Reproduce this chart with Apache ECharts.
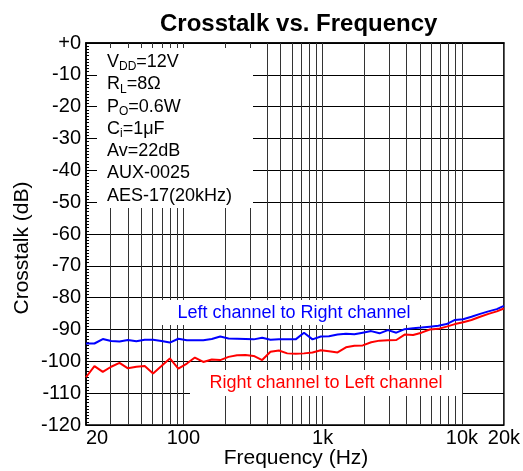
<!DOCTYPE html>
<html>
<head>
<meta charset="utf-8">
<title>Crosstalk vs. Frequency</title>
<script src="https://cdn.jsdelivr.net/npm/echarts@6/dist/echarts.min.js"></script>
<style>
  html, body { margin: 0; padding: 0; background: #fff; }
  #chart { width: 523px; height: 471px; }
</style>
</head>
<body>
<div id="chart"></div>
<script>
// measuring points (Hz), 1/5 octave steps
const freqs = [20, 23, 26.4, 30.3, 34.8, 40, 46, 52.8, 60.6, 69.6,
  80, 92, 106, 121, 139, 160, 184, 211, 243, 279,
  320, 368, 422, 485, 557, 640, 735, 845, 970, 1110,
  1280, 1470, 1690, 1940, 2230, 2560, 2940, 3380, 3880, 4460,
  5120, 5880, 6760, 7760, 8910, 10200, 11700, 13500, 15500, 17800, 20000];

// Left channel to Right channel (dB)
const leftToRight = [-94.4, -94.4, -93.0, -93.6, -93.8, -93.3, -93.7, -93.2, -93.2, -93.6,
  -94.1, -92.9, -93.4, -93.4, -93.4, -93.0, -92.2, -92.8, -92.9, -93.0,
  -93.1, -92.6, -93.2, -93.1, -93.1, -93.1, -91.0, -93.1, -92.2, -92.1,
  -91.6, -91.3, -91.5, -91.0, -90.5, -91.2, -90.2, -91.0, -89.9, -89.6,
  -89.4, -89.1, -88.8, -88.3, -87.0, -86.8, -86.0, -85.1, -84.3, -83.6, -82.6];

// Right channel to Left channel (dB)
const rightToLeft = [-105.0, -101.5, -103.3, -101.7, -100.5, -102.2, -101.7, -101.5, -103.8, -101.5,
  -99.1, -102.3, -100.7, -98.8, -100.2, -99.4, -99.6, -98.6, -98.1, -98.0,
  -98.3, -99.6, -97.0, -96.6, -97.5, -97.6, -97.5, -97.2, -96.5, -96.8,
  -97.2, -95.6, -95.1, -95.0, -94.0, -93.5, -93.4, -93.3, -91.6, -91.7,
  -91.0, -90.0, -89.8, -89.1, -88.3, -87.7, -87.0, -86.0, -85.1, -84.3, -83.4];

// vertical grid lines of the log axis
const gridFreqs = [30, 40, 50, 60, 70, 80, 90, 100,
  200, 300, 400, 500, 600, 700, 800, 900, 1000,
  2000, 3000, 4000, 5000, 6000, 7000, 8000, 9000, 10000];

const xLabels = {20: '20', 100: '100', 1000: '1k', 10000: '10k', 20000: '20k'};

// test conditions: [main, subscript, rest]
const conditions = [
  ['V', 'DD', '=12V'],
  ['R', 'L', '=8Ω'],
  ['P', 'O', '=0.6W'],
  ['C', 'i', '=1μF'],
  ['Av=22dB', '', ''],
  ['AUX-0025', '', ''],
  ['AES-17(20kHz)', '', '']
];

const FONT = '"Liberation Sans", Arial, sans-serif';

const chart = echarts.init(document.getElementById('chart'));

const condText = conditions.map((c, i) => ({
  type: 'text',
  x: 107,
  y: 62 + i * 22.3,
  z: 11,
  silent: true,
  style: {
    text: c[1] ? `{t|${c[0]}}{s|${c[1]}}{t|${c[2]}}` : `{t|${c[0]}}`,
    verticalAlign: 'middle',
    rich: {
      t: {fontSize: 18, fontFamily: FONT, lineHeight: 22, fill: '#000'},
      s: {fontSize: 12, fontFamily: FONT, lineHeight: 8, verticalAlign: 'bottom', fill: '#000'}
    }
  }
}));

const option = {
  animation: false,
  backgroundColor: '#fff',
  title: {
    text: 'Crosstalk vs. Frequency',
    left: 160,
    top: 12,
    padding: 0,
    textStyle: {fontSize: 24, fontWeight: 'bold', fontFamily: FONT, color: '#000'}
  },
  grid: {
    left: 86, right: 18, top: 43, bottom: 46,
    show: true,
    borderColor: '#000',
    borderWidth: 1.5,
    backgroundColor: 'transparent'
  },
  xAxis: {
    type: 'log',
    logBase: 10,
    min: 20,
    max: 20000,
    axisLine: {show: true, lineStyle: {color: '#000', width: 1.5}},
    axisTick: {show: false},
    splitLine: {show: false},
    axisLabel: {
      show: true,
      interval: 0,
      showMinLabel: true,
      showMaxLabel: true,
      alignMinLabel: 'left',
      margin: 3,
      fontSize: 20,
      fontFamily: FONT,
      color: '#000',
      formatter: v => xLabels[Math.round(v)] || ''
    }
  },
  yAxis: {
    type: 'value',
    min: -120,
    max: 0,
    interval: 10,
    axisLine: {show: true, lineStyle: {color: '#000', width: 1.5}},
    axisTick: {show: true, inside: true, length: 6, lineStyle: {color: '#000'}},
    minorTick: {show: true, splitNumber: 10, length: 3, lineStyle: {color: '#000'}},
    splitLine: {show: true, lineStyle: {color: '#000', width: 1}},
    axisLabel: {
      margin: 5,
      fontSize: 20,
      fontFamily: FONT,
      color: '#000',
      formatter: v => (v === 0 ? '+0' : String(v))
    }
  },
  graphic: [
    // white boxes behind the annotations
    {type: 'rect', z: 8, silent: true, shape: {x: 97, y: 48, width: 156, height: 160}, style: {fill: '#fff'}},
    {type: 'rect', z: 8, silent: true, shape: {x: 155, y: 300, width: 273, height: 25}, style: {fill: '#fff'}},
    {type: 'rect', z: 8, silent: true, shape: {x: 190, y: 370, width: 272, height: 26}, style: {fill: '#fff'}},
    ...condText,
    {
      type: 'text', x: 294, y: 313, z: 11, silent: true,
      style: {text: 'Left channel to Right channel', fill: '#0000ff', fontSize: 18, fontFamily: FONT, align: 'center', verticalAlign: 'middle'}
    },
    {
      type: 'text', x: 326, y: 383, z: 11, silent: true,
      style: {text: 'Right channel to Left channel', fill: '#ff0000', fontSize: 18, fontFamily: FONT, align: 'center', verticalAlign: 'middle'}
    },
    {
      type: 'text', x: 296, y: 458, silent: true,
      style: {text: 'Frequency (Hz)', fill: '#000', fontSize: 21, fontFamily: FONT, align: 'center', verticalAlign: 'middle'}
    },
    {
      type: 'text', x: 22, y: 248, rotation: Math.PI / 2, silent: true,
      style: {text: 'Crosstalk (dB)', fill: '#000', fontSize: 21, fontFamily: FONT, align: 'center', verticalAlign: 'middle'}
    }
  ],
  series: [
    {
      // only carries the vertical grid lines
      type: 'line',
      z: 1,
      silent: true,
      data: [],
      markLine: {
        z: 1,
        silent: true,
        symbol: ['none', 'none'],
        label: {show: false},
        animation: false,
        lineStyle: {color: '#333', width: 1, type: 'solid'},
        emphasis: {disabled: true},
        data: gridFreqs.map(f => ({xAxis: f}))
      }
    },
    {
      name: 'Left channel to Right channel',
      type: 'line',
      z: 10,
      showSymbol: false,
      symbol: 'none',
      lineStyle: {color: '#0000ff', width: 2},
      itemStyle: {color: '#0000ff'},
      data: freqs.map((f, i) => [f, leftToRight[i]])
    },
    {
      name: 'Right channel to Left channel',
      type: 'line',
      z: 10,
      showSymbol: false,
      symbol: 'none',
      lineStyle: {color: '#ff0000', width: 2},
      itemStyle: {color: '#ff0000'},
      data: freqs.map((f, i) => [f, rightToLeft[i]])
    }
  ]
};

chart.setOption(option);
</script>
</body>
</html>
